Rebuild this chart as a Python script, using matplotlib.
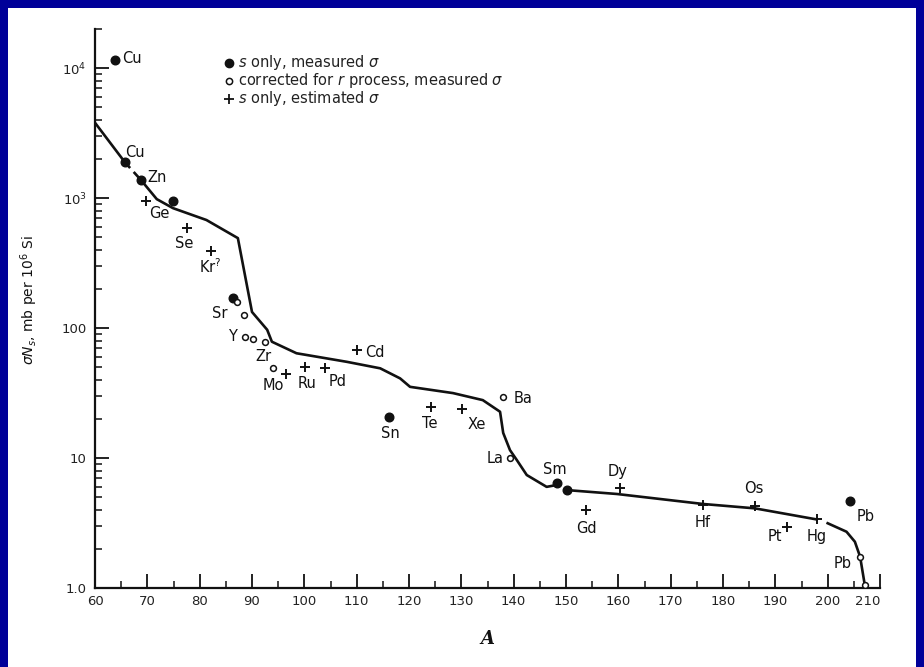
import numpy as np
import matplotlib
matplotlib.use('Agg')
import matplotlib.pyplot as plt
from matplotlib.lines import Line2D
from matplotlib.patches import Rectangle
from matplotlib.ticker import FixedLocator, NullFormatter, FixedFormatter

# ---------------- data ----------------
# sigma*N curve, drawn in pieces
curve1_a = [60.0, 65.7]
curve1_y = [3800, 1890]
dash_a = [65.7, 68.8]
dash_y = [1890, 1375]
curve2_a = [68.8, 71.8, 74.9, 81.3, 87.3, 90.0, 92.9, 93.8, 98.5, 108.1, 114.5,
            118.3, 120.2, 128.4, 134.1, 137.4, 138.0, 139.3, 140.6, 142.5, 146.3, 148.2]
curve2_y = [1375, 982, 837, 678, 492, 133, 97, 78.5, 64, 55, 49,
            41, 35.3, 31.6, 27.9, 22.7, 15.6, 11.5, 9.65, 7.4, 6.0, 6.2]
curve3_a = [150.1, 159.7, 176.2, 186.1, 197.9]
curve3_y = [5.67, 5.29, 4.43, 4.1, 3.37]
curve4_a = [200.0, 203.6, 205.2, 206.2, 207.1]
curve4_y = [3.15, 2.71, 2.27, 1.74, 1.05]

# s only, measured sigma (filled dots)
fill_a = [63.8, 65.7, 68.8, 74.9, 86.4, 116.2, 148.2, 150.1, 204.3]
fill_y = [11500, 1890, 1375, 953, 169, 20.8, 6.38, 5.67, 4.7]
fill_lab = ['Cu', 'Cu', 'Zn', '', 'Sr', 'Sn', 'Sm', '', 'Pb']

# corrected for r process, measured sigma (open circles)
open_a = [87.2, 88.5, 88.7, 90.2, 92.5, 94.1, 138.0, 139.3, 206.2, 207.1]
open_y = [159, 126, 85.7, 81.8, 78.5, 49, 29.7, 9.95, 1.74, 1.05]
open_lab = ['', '', 'Y', '', 'Zr', 'Mo', 'Ba', 'La', 'Pb', '']

# s only, estimated sigma (plus)
plus_a = [69.7, 77.5, 82.2, 96.5, 100.1, 103.9, 110.0, 124.2, 130.2,
          153.9, 160.3, 176.2, 186.1, 192.3, 197.9]
plus_y = [953, 585, 394, 44, 50, 49, 67.6, 24.8, 23.8,
          3.98, 5.85, 4.35, 4.27, 2.97, 3.37]
plus_lab = ['Ge', 'Se', 'Kr$^?$', '', 'Ru', 'Pd', 'Cd', 'Te', 'Xe',
            'Gd', 'Dy', 'Hf', 'Os', 'Pt', 'Hg']

legend_labels = [r'$s$ only, measured $\sigma$',
                 r'corrected for $r$ process, measured $\sigma$',
                 r'$s$ only, estimated $\sigma$']

x_ticks = [60, 70, 80, 90, 100, 110, 120, 130, 140, 150, 160, 170, 180, 190, 200, 210]
y_ticks = [1, 10, 100, 1000, 10000]
y_ticklabels = ['1.0', '10', '100', r'10$^3$', r'10$^4$']

# ---------------- label offsets (pixels) ----------------
fill_off = [(17, 2), (10, 10), (16, 3), (0, 0), (-13, -15), (1, -17), (-2, 14), (0, 0), (15, -16)]
open_off = [(0, 0), (0, 0), (-13, 0), (0, 0), (-2, -15), (0, -17), (20, -2), (-15, 0), (-17, -7), (0, 0)]
plus_off = [(14, -13), (-2, -15), (-1, -16), (0, 0), (2, -16), (13, -13), (18, -2), (-1, -17),
            (14, -15), (0, -18), (-2, 17), (0, -17), (-1, 18), (-12, -10), (0, -17)]

W, H = 924, 667
fig = plt.figure(figsize=(W / 100, H / 100), dpi=100)
fig.patch.set_facecolor('#000099')
fig.add_artist(Rectangle((8 / W, 0), (W - 16) / W, (H - 8) / H, transform=fig.transFigure,
                         facecolor='white', edgecolor='none', zorder=0))

ax = fig.add_axes([95 / W, 1 - 588 / H, (880 - 95) / W, (588 - 29) / H])
ax.set_facecolor('none')
ax.set_yscale('log')
ax.set_xlim(60, 210)
ax.set_ylim(1, 2e4)

ink = '#111111'
lw = 1.9
ax.plot(curve1_a, curve1_y, color=ink, lw=lw, solid_capstyle='round')
ax.plot(dash_a, dash_y, color=ink, lw=lw, dashes=(3, 2))
ax.plot(curve2_a, curve2_y, color=ink, lw=lw, solid_joinstyle='round')
ax.plot(curve3_a, curve3_y, color=ink, lw=lw, solid_joinstyle='round')
ax.plot(curve4_a, curve4_y, color=ink, lw=lw, solid_joinstyle='round')

ax.plot(fill_a, fill_y, ls='none', marker='o', ms=6.2, color=ink, zorder=5)
ax.plot(open_a, open_y, ls='none', marker='o', ms=4.2, mfc='white', mec=ink, mew=1.1, zorder=5)
ax.plot(plus_a, plus_y, ls='none', marker='+', ms=7, mew=1.4, color=ink, zorder=5)

lab_fs = 10.5
for a, y, lab, (dx, dy) in zip(fill_a, fill_y, fill_lab, fill_off):
    if lab:
        ax.annotate(lab, (a, y), xytext=(dx, dy), textcoords='offset pixels',
                    ha='center', va='center', fontsize=lab_fs, color=ink)
for a, y, lab, (dx, dy) in zip(open_a, open_y, open_lab, open_off):
    if lab:
        ax.annotate(lab, (a, y), xytext=(dx, dy), textcoords='offset pixels',
                    ha='center', va='center', fontsize=lab_fs, color=ink)
for a, y, lab, (dx, dy) in zip(plus_a, plus_y, plus_lab, plus_off):
    if lab:
        ax.annotate(lab, (a, y), xytext=(dx, dy), textcoords='offset pixels',
                    ha='center', va='center', fontsize=lab_fs, color=ink)

# spines / ticks
for s in ['top', 'right']:
    ax.spines[s].set_visible(False)
for s in ['left', 'bottom']:
    ax.spines[s].set_linewidth(1.6)
    ax.spines[s].set_color(ink)

ax.xaxis.set_major_locator(FixedLocator(x_ticks))
ax.xaxis.set_minor_locator(FixedLocator([t + 5 for t in x_ticks[:-1]]))
ax.yaxis.set_major_locator(FixedLocator(y_ticks))
ax.yaxis.set_major_formatter(FixedFormatter(y_ticklabels))
ax.yaxis.set_minor_locator(FixedLocator([m * 10 ** e for e in range(0, 5) for m in range(2, 10)
                                         if m * 10 ** e <= 2e4]))
ax.yaxis.set_minor_formatter(NullFormatter())
ax.tick_params(axis='both', which='major', direction='in', length=10, width=1.3,
               color=ink, labelsize=9.5, labelcolor='#222222')
ax.tick_params(axis='both', which='minor', direction='in', length=5, width=1.1, color=ink)
ax.tick_params(axis='x', which='major', pad=5)
ax.tick_params(axis='y', which='major', pad=6)
xl = ax.get_xticklabels()
xl[-1].set_horizontalalignment('right')
xl[-1].set_x(210)

# legend (drawn row by row to match the original key)
leg_markers = [dict(marker='o', ms=6, color=ink),
               dict(marker='o', ms=4.5, mfc='white', mec=ink, mew=1.1),
               dict(marker='+', ms=6.5, mew=1.3, color=ink)]
leg_rows_px = [63, 81, 99]
for lab, mk, ypx in zip(legend_labels, leg_markers, leg_rows_px):
    fig.add_artist(Line2D([229 / W], [1 - ypx / H], ls='none', transform=fig.transFigure, **mk))
    fig.text(238 / W, 1 - ypx / H, lab, ha='left', va='center', fontsize=10.5, color='#222222')

fig.text(29 / W, 1 - 300 / H, r'$\sigma N_s$, mb per 10$^6$ Si', rotation=90,
         ha='center', va='center', fontsize=10, color=ink)
fig.text(487 / W, 1 - 639 / H, 'A', ha='center', va='center', fontsize=13,
         family='DejaVu Serif', style='italic', weight='bold', color=ink)

fig.savefig('out.png', dpi=100, facecolor=fig.get_facecolor())
